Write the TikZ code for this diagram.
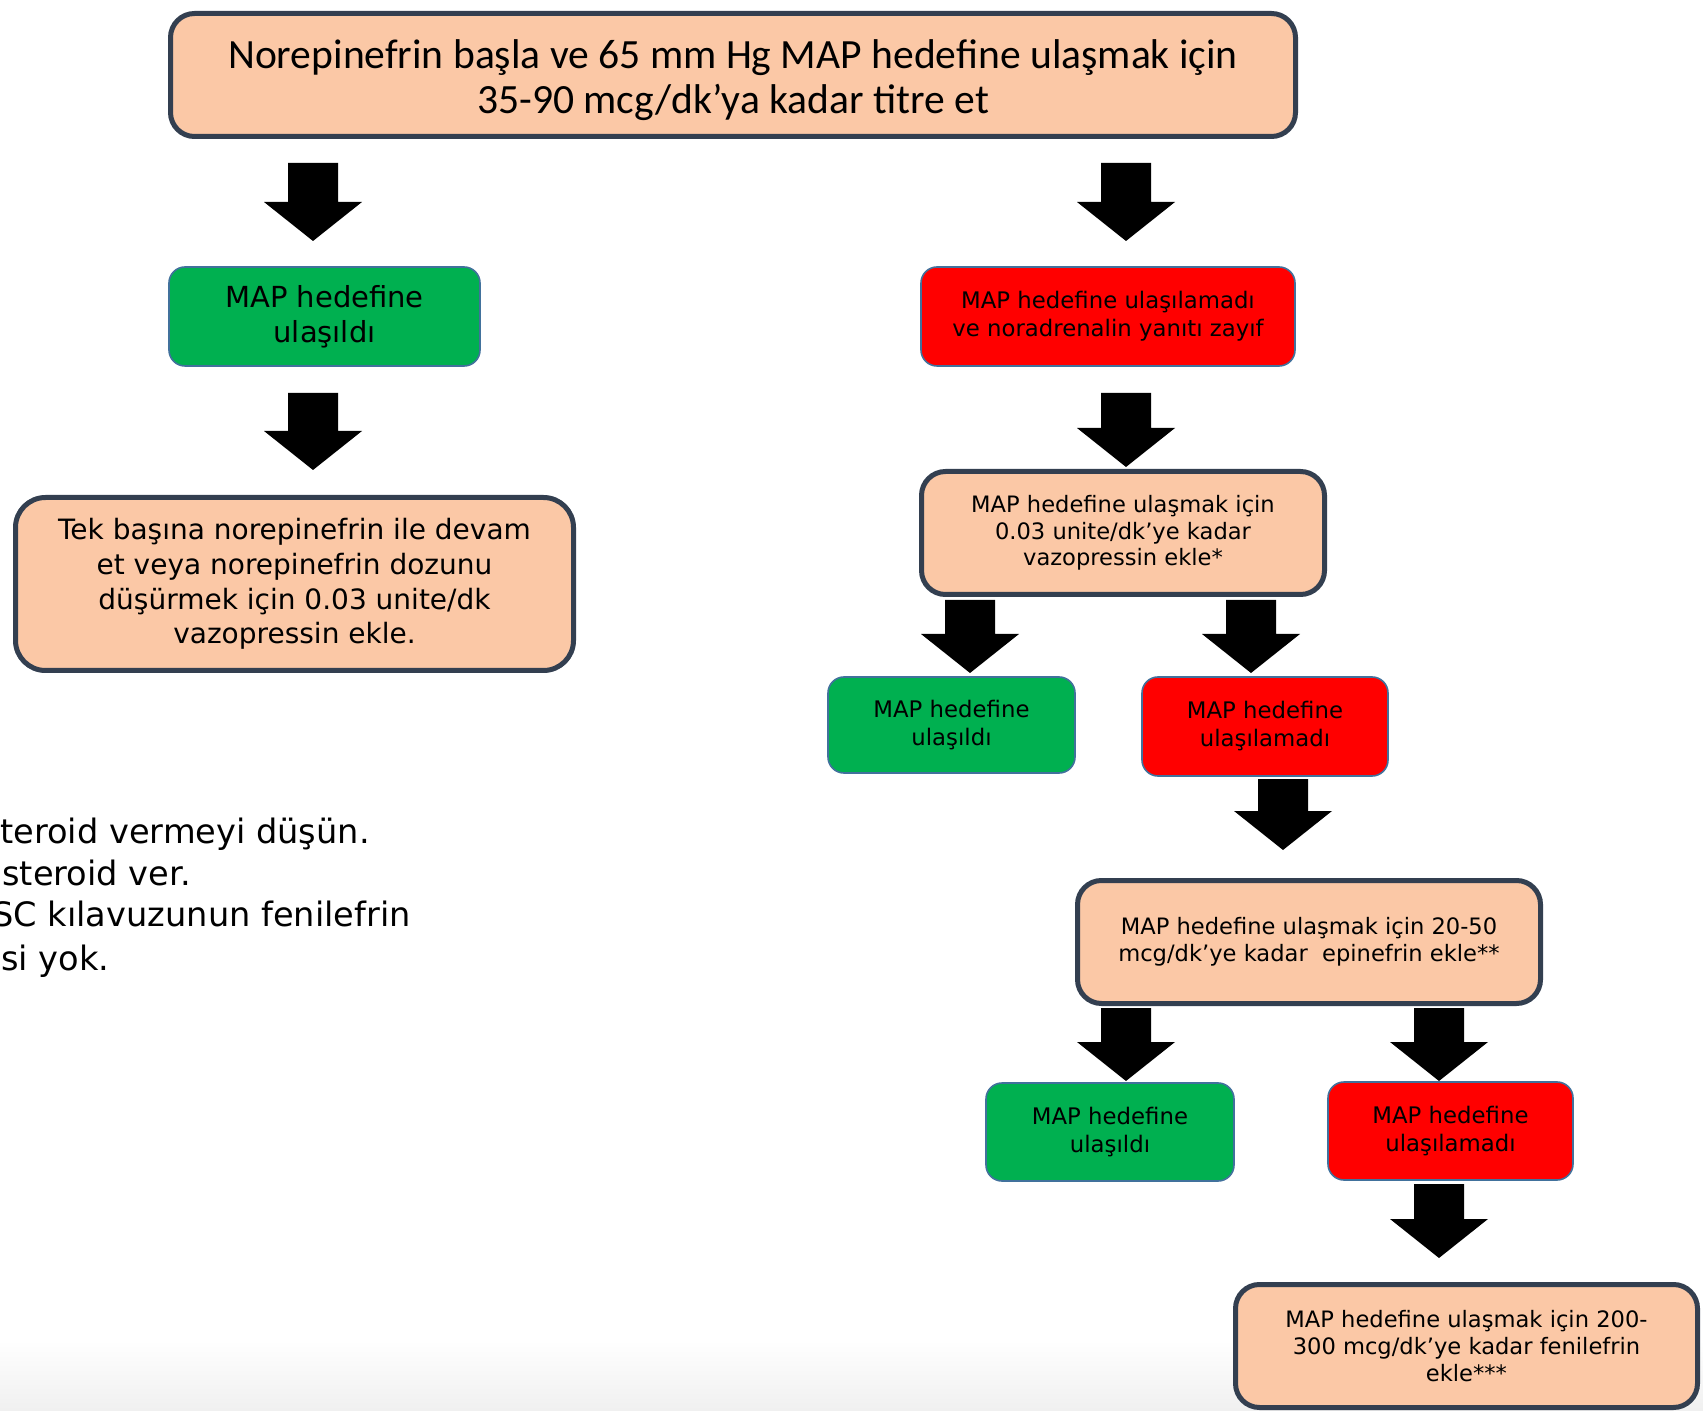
\documentclass[tikz,border=0pt]{standalone}
\usepackage{fontspec}
\setmainfont{DejaVu Sans}
\newfontfamily\topfont{Carlito}
\usetikzlibrary{calc}
\definecolor{peach}{HTML}{FBC8A6}
\definecolor{slate}{HTML}{333F50}
\definecolor{okgreen}{HTML}{00B050}
\definecolor{failred}{HTML}{FF0000}
\definecolor{thinedge}{HTML}{41719C}
\tikzset{
  peachbox/.style={draw=slate, line width=2.5pt, fill=peach, rounded corners=12pt, align=center, inner sep=0pt},
  okbox/.style={draw=thinedge, line width=0.8pt, fill=okgreen, rounded corners=8pt, align=center, inner sep=0pt},
  failbox/.style={okbox, fill=failred},
  ftop/.style={font=\topfont\fontsize{20.8}{22.4}\selectfont},
  fmid/.style={font=\fontsize{14}{17.4}\selectfont},
  fsmall/.style={font=\fontsize{11.4}{14}\selectfont},
  fsmaller/.style={font=\fontsize{11.3}{13.3}\selectfont},
  fside/.style={font=\fontsize{16.8}{20}\selectfont, anchor=base west, inner sep=0pt},
}
\newcommand{\blockarrow}[2]{%
  \fill[black] let \p1=(#1), \p2=(#2) in
   (\x1-12.5pt,\y1) -- (\x1+12.5pt,\y1) -- (\x1+12.5pt,\y2+19.5pt) -- (\x1+24.5pt,\y2+19.5pt)
   -- (\x1,\y2) -- (\x1-24.5pt,\y2+19.5pt) -- (\x1-12.5pt,\y2+19.5pt) -- cycle;}
\begin{document}
\begin{tikzpicture}[x=0.5pt, y=-0.5pt]
\useasboundingbox (0,0) rectangle (1703,1411);
\fill[white] (0,0) rectangle (1703,1411);
\shade[top color=white, bottom color=black!6] (0,1340) rectangle (1703,1411);

% boxes
\node[peachbox, ftop, minimum width=562.5pt, minimum height=61.5pt] (top) at (733,75)
  {\rule{0pt}{19.5pt}Norepinefrin başla ve 65 mm Hg MAP hedefine ulaşmak için\\35-90 mcg/dk’ya kadar titre et};
\node[okbox, fmid, font=\fontsize{14.5}{17.4}\selectfont, minimum width=155.5pt, minimum height=49.5pt] (g1) at (324.5,316.5)
  {MAP hedefine\\ulaşıldı};
\node[failbox, fsmall, minimum width=187pt, minimum height=49.5pt] (r1) at (1108,316.5)
  {MAP hedefine ulaşılamadı\\ve noradrenalin yanıtı zayıf};
\node[peachbox, fmid, rounded corners=15pt, minimum width=279pt, minimum height=86.5pt] (lp) at (294.5,584)
  {Tek başına norepinefrin ile devam\\et veya norepinefrin dozunu\\düşürmek için 0.03 unite/dk\\vazopressin ekle.};
\node[peachbox, fsmaller, minimum width=201.5pt, minimum height=61.5pt] (vaso) at (1123,533)
  {MAP hedefine ulaşmak için\\0.03 unite/dk’ye kadar\\vazopressin ekle*};
\node[okbox, fsmall, minimum width=123.5pt, minimum height=48pt] (g2) at (951.5,725)
  {MAP hedefine\\ulaşıldı};
\node[failbox, fsmall, minimum width=123pt, minimum height=49.5pt] (r2) at (1265,726.5)
  {MAP hedefine\\ulaşılamadı};
\node[peachbox, fsmaller, minimum width=231.5pt, minimum height=61.5pt] (epi) at (1309,942)
  {MAP hedefine ulaşmak için 20-50\\mcg/dk’ye kadar\ \ epinefrin ekle**};
\node[okbox, fsmall, minimum width=124pt, minimum height=49pt] (g3) at (1110,1132)
  {MAP hedefine\\ulaşıldı};
\node[failbox, fsmall, minimum width=122.5pt, minimum height=49pt] (r3) at (1450.5,1131)
  {MAP hedefine\\ulaşılamadı};
\node[peachbox, fsmaller, minimum width=231pt, minimum height=61.5pt] (feni) at (1466.5,1346)
  {MAP hedefine ulaşmak için 200-\\300 mcg/dk’ye kadar fenilefrin\\ekle***};

% arrow end points
\coordinate (a1s) at (313,163);  \coordinate (a1e) at (313,241);
\coordinate (a2s) at (1126,163); \coordinate (a2e) at (1126,241);
\coordinate (a3s) at (313,393);  \coordinate (a3e) at (313,470);
\coordinate (a4s) at (1126,393); \coordinate (a4e) at (1126,467);
\coordinate (a5s) at (970,600);  \coordinate (a5e) at (970,673);
\coordinate (a6s) at (1251,600); \coordinate (a6e) at (1251,673);
\coordinate (a7s) at (1283,779); \coordinate (a7e) at (1283,850);
\coordinate (a8s) at (1126,1008); \coordinate (a8e) at (1126,1081);
\coordinate (a9s) at (1439,1008); \coordinate (a9e) at (1439,1081);
\coordinate (a10s) at (1439,1184); \coordinate (a10e) at (1439,1258);

\blockarrow{a1s}{a1e}
\blockarrow{a2s}{a2e}
\blockarrow{a3s}{a3e}
\blockarrow{a4s}{a4e}
\blockarrow{a5s}{a5e}
\blockarrow{a6s}{a6e}
\blockarrow{a7s}{a7e}
\blockarrow{a8s}{a8e}
\blockarrow{a9s}{a9e}
\blockarrow{a10s}{a10e}

% side notes (cut at the left edge, as in the source)
\begin{scope}
\clip (0,0) rectangle (1703,1411);
\node[fside] (n1) at (0,843) {teroid vermeyi düşün.};
\node[fside] (n2) at (2,885) {steroid ver.};
\node[fside] (n3) at (-8,926) {SC kılavuzunun fenilefrin};
\node[fside] (n4) at (1,970) {si yok.};
\end{scope}
\end{tikzpicture}
\end{document}
